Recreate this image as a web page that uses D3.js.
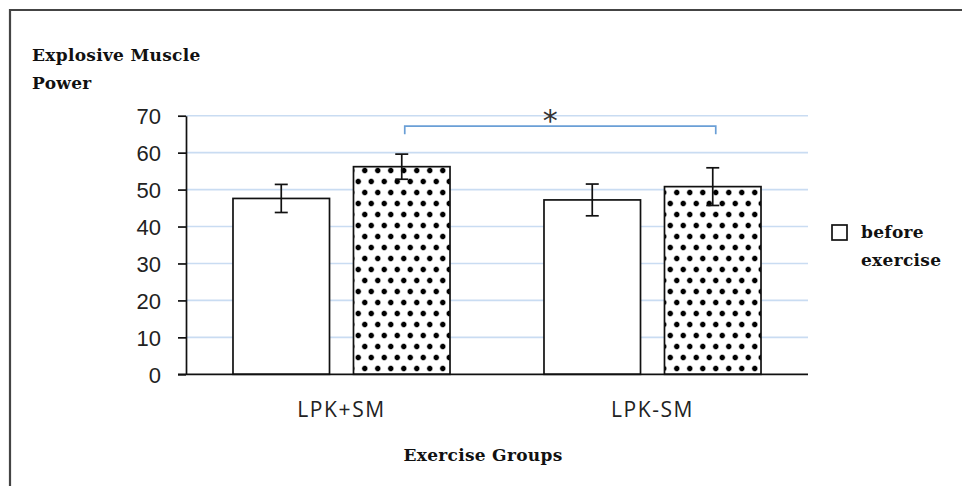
<!DOCTYPE html>
<html>
<head>
<meta charset="utf-8">
<script src="https://cdn.jsdelivr.net/npm/d3@7/dist/d3.min.js"></script>
<style>
  html, body { margin: 0; padding: 0; background: #fff; }
  svg { display: block; }
</style>
</head>
<body>
<svg id="chart" width="962" height="486"></svg>
<script>
// ---- data ----
const categories = ["LPK+SM", "LPK-SM"];
const seriesNames = ["before exercise", "after exercise"];
const beforeValues = [47.6, 47.2];
const afterValues = [56.2, 50.8];
const beforeErrors = [3.8, 4.3];
const afterErrors = [3.4, 5.1];
const yTicks = [0, 10, 20, 30, 40, 50, 60, 70];
const significance = { from: [0, "after exercise"], to: [1, "after exercise"], y: 67.2, drop: 2.2, label: "*" };

const svg = d3.select("#chart");
const W = 962, H = 486;

// frame (top and left edge)
svg.append("path")
  .attr("d", `M10,${H} L10,10 L${W},10`)
  .attr("fill", "none").attr("stroke", "#444").attr("stroke-width", 2.2);

// pattern
const defs = svg.append("defs");
const grad = defs.append("radialGradient").attr("id", "dotg");
grad.append("stop").attr("offset", "0%").attr("stop-color", "#000");
grad.append("stop").attr("offset", "55%").attr("stop-color", "#000");
grad.append("stop").attr("offset", "100%").attr("stop-color", "#fff").attr("stop-opacity", 0);
const pat = defs.append("pattern").attr("id", "dots")
  .attr("patternUnits", "userSpaceOnUse").attr("width", 13).attr("height", 22)
  .attr("x", 355).attr("y", 0);
pat.append("rect").attr("width", 13).attr("height", 22).attr("fill", "#fff");
pat.append("circle").attr("cx", 3.25).attr("cy", 5.5).attr("r", 3.9).attr("fill", "url(#dotg)");
pat.append("circle").attr("cx", 9.75).attr("cy", 16.5).attr("r", 3.9).attr("fill", "url(#dotg)");

// scales
const x0 = d3.scaleBand().domain(categories).range([186, 808]).padding(0);
const x1 = d3.scaleBand().domain(seriesNames).range([0, x0.bandwidth()])
  .paddingInner(0.199).paddingOuter(0.39);
const y = d3.scaleLinear().domain([0, 70]).range([374.3, 115.7]);

// gridlines
svg.append("g").selectAll("line").data(yTicks.filter(d => d > 0)).join("line")
  .attr("x1", 186).attr("x2", 808)
  .attr("y1", d => y(d)).attr("y2", d => y(d))
  .attr("stroke", "#c9dcf2").attr("stroke-width", 1.6);

// bars
const rows = categories.map((c, i) => [
  { cat: c, s: seriesNames[0], v: beforeValues[i], e: beforeErrors[i] },
  { cat: c, s: seriesNames[1], v: afterValues[i], e: afterErrors[i] }
]).flat();

svg.append("g").selectAll("rect").data(rows).join("rect")
  .attr("x", d => x0(d.cat) + x1(d.s))
  .attr("y", d => y(d.v))
  .attr("width", x1.bandwidth())
  .attr("height", d => y(0) - y(d.v))
  .attr("fill", d => d.s === seriesNames[0] ? "#fff" : "url(#dots)")
  .attr("stroke", "#111").attr("stroke-width", 1.7);

// error bars
const eg = svg.append("g").attr("stroke", "#111").attr("stroke-width", 1.7);
rows.forEach(d => {
  const cx = x0(d.cat) + x1(d.s) + x1.bandwidth() / 2;
  eg.append("line").attr("x1", cx).attr("x2", cx).attr("y1", y(d.v + d.e)).attr("y2", y(d.v - d.e));
  eg.append("line").attr("x1", cx - 6.5).attr("x2", cx + 6.5).attr("y1", y(d.v + d.e)).attr("y2", y(d.v + d.e));
  eg.append("line").attr("x1", cx - 6.5).attr("x2", cx + 6.5).attr("y1", y(d.v - d.e)).attr("y2", y(d.v - d.e));
});

// y axis
const yAxis = d3.axisLeft(y).tickValues(yTicks).tickSize(8).tickPadding(17).tickSizeOuter(0);
const ya = svg.append("g").attr("transform", "translate(186,0)").call(yAxis);
ya.select(".domain").attr("stroke", "#111").attr("stroke-width", 1.7);
ya.selectAll(".tick line").attr("stroke", "#111").attr("stroke-width", 1.7);
ya.selectAll(".tick text").attr("font-family", "Liberation Sans, Arial, sans-serif")
  .attr("font-size", 22).attr("fill", "#222").attr("dy", "0.36em");

// x axis baseline
const xAxis = d3.axisBottom(x0).tickSize(0).tickPadding(28);
const xa = svg.append("g").attr("transform", `translate(0,${y(0)})`).call(xAxis);
xa.select(".domain").remove();
xa.append("line").attr("x1", 178).attr("x2", 808).attr("stroke", "#111").attr("stroke-width", 1.7);
xa.selectAll(".tick text").attr("font-family", "Open Sans, sans-serif")
  .attr("font-size", 21).attr("letter-spacing", 1.6).attr("fill", "#222");

// significance bracket
const bx1 = x0(categories[significance.from[0]]) + x1(significance.from[1]) + x1.bandwidth() / 2 + 3;
const bx2 = x0(categories[significance.to[0]]) + x1(significance.to[1]) + x1.bandwidth() / 2 + 3;
svg.append("path")
  .attr("d", `M${bx1},${y(significance.y - significance.drop)} L${bx1},${y(significance.y)} L${bx2},${y(significance.y)} L${bx2},${y(significance.y - significance.drop)}`)
  .attr("fill", "none").attr("stroke", "#6a9fd6").attr("stroke-width", 1.7);
svg.append("text").attr("x", (bx1 + bx2) / 2 - 10).attr("y", 131)
  .attr("text-anchor", "middle").attr("font-family", "DejaVu Sans, sans-serif")
  .attr("font-size", 30).attr("fill", "#333").text(significance.label);

// titles
const serif = "DejaVu Serif, serif";
const tStyle = sel => sel.attr("font-family", serif).attr("font-weight", "bold")
  .attr("font-size", 17).attr("letter-spacing", 0.3).attr("fill", "#111");
svg.append("text").attr("x", 32).attr("y", 61).call(tStyle).text("Explosive Muscle");
svg.append("text").attr("x", 32).attr("y", 89).call(tStyle).text("Power");
svg.append("text").attr("x", 483).attr("y", 461).attr("text-anchor", "middle").call(tStyle).text("Exercise Groups");

// legend
svg.append("rect").attr("x", 832).attr("y", 225).attr("width", 15).attr("height", 15)
  .attr("fill", "#fff").attr("stroke", "#111").attr("stroke-width", 1.7);
svg.append("text").attr("x", 861).attr("y", 238).call(tStyle).text("before");
svg.append("text").attr("x", 861).attr("y", 266).call(tStyle).text("exercise");
</script>
</body>
</html>
